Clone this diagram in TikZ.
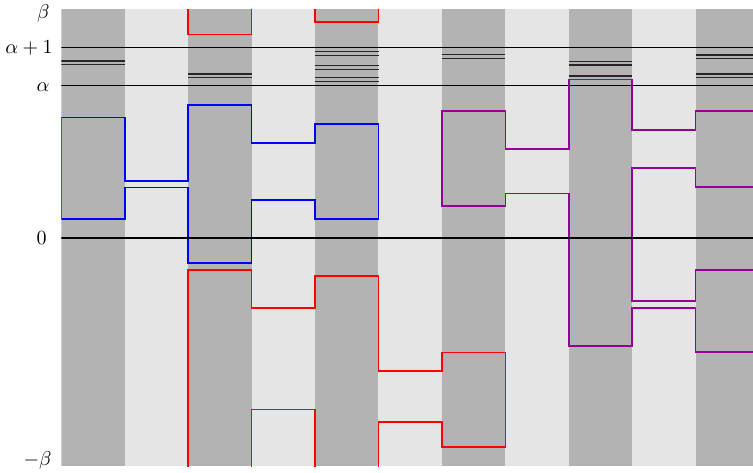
\documentclass[tikz,border=0pt]{standalone}
\usepackage{tikz}
\definecolor{darkcol}{RGB}{179,179,179}
\definecolor{lightcol}{RGB}{229,229,229}
\definecolor{purp}{RGB}{150,0,150}
\tikzset{
  dbl/.style={black!85, line width=0.75pt},
  hline/.style={black, line width=0.55pt},
  zline/.style={black, line width=1.35pt},
  region/.style={line width=0.8pt, line join=miter},
  lab/.style={anchor=east, inner sep=0pt, font=\normalsize}
}
\begin{document}
\begin{tikzpicture}[x=0.5pt,y=-0.5pt]
\useasboundingbox (0,0) rectangle (753,472);
\begin{scope}
\clip (61.3,9) rectangle (753,466);
% columns
\foreach \k in {0,...,10}{
  \pgfmathsetmacro{\xa}{61.3+63.43*\k}
  \pgfmathsetmacro{\xb}{61.3+63.43*(\k+1)}
  \pgfmathtruncatemacro{\myparity}{mod(\k,2)}
  \ifnum\myparity=0
    \fill[darkcol] (\xa,9) rectangle (\xb,466);
  \else
    \fill[lightcol] (\xa,9) rectangle (\xb,466);
  \fi
}
% alpha lines
\draw[hline] (61.3,47.3) -- (753,47.3);
\draw[hline] (61.3,85.3) -- (753,85.3);
% double lines
\foreach \xa/\xb/\y in {61.3/124.7/61, 61.3/124.7/64.7,
  188.2/251.6/74, 188.2/251.6/77.7,
  315/378.5/51.7, 315/378.5/55.3, 315/378.5/65.7, 315/378.5/69.5, 315/378.5/77.7, 315/378.5/81.3,
  441.9/505.3/54.7, 441.9/505.3/58.7,
  568.8/632.2/61.3, 568.8/632.2/65, 568.8/632.2/76, 568.8/632.2/79.5,
  695.6/759/55, 695.6/759/58.7, 695.6/759/74, 695.6/759/77.7}{
  \draw[dbl] (\xa,\y) -- (\xb,\y);
}
% blue region
\draw[region, blue] (61.3,117.3) -- (124.7,117.3) -- (124.7,180.7) -- (188.2,180.7) -- (188.2,104.7) -- (251.6,104.7) -- (251.6,142.7) -- (315,142.7) -- (315,123.7) -- (378.5,123.7) -- (378.5,218.7) -- (315,218.7) -- (315,200) -- (251.6,200) -- (251.6,262.7) -- (188.2,262.7) -- (188.2,187.3) -- (124.7,187.3) -- (124.7,218.7) -- (61.3,218.7) -- cycle;
% red region
\draw[region, red] (188.2,470) -- (188.2,269.7) -- (251.6,269.7) -- (251.6,307.7) -- (315,307.7) -- (315,276) -- (378.5,276) -- (378.5,371) -- (441.9,371) -- (441.9,352.3) -- (505.3,352.3) -- (505.3,446.7) -- (441.9,446.7) -- (441.9,421.7) -- (378.5,421.7) -- (378.5,470);
\draw[region, red] (251.6,470) -- (251.6,409.3) -- (315,409.3) -- (315,470);
\draw[region, red] (188.2,5) -- (188.2,34.3) -- (251.6,34.3) -- (251.6,5);
\draw[region, red] (315,5) -- (315,21.7) -- (378.5,21.7) -- (378.5,5);
% purple region
\draw[region, purp] (760,110.7) -- (695.6,110.7) -- (695.6,129.7) -- (632.2,129.7) -- (632.2,79.3) -- (568.8,79.3) -- (568.8,148.7) -- (505.3,148.7) -- (505.3,110.7) -- (441.9,110.7) -- (441.9,206) -- (505.3,206) -- (505.3,193.3) -- (568.8,193.3) -- (568.8,345.7) -- (632.2,345.7) -- (632.2,307.7) -- (695.6,307.7) -- (695.6,352) -- (760,352);
\draw[region, purp] (760,187) -- (695.6,187) -- (695.6,168) -- (632.2,168) -- (632.2,301) -- (695.6,301) -- (695.6,269.7) -- (760,269.7);
% zero line
\draw[zline] (61.3,238) -- (753,238);
\end{scope}
% labels
\node[lab] (lbeta) at (50,13) {$\beta$};
\node[lab] (lap) at (53,48) {$\alpha+1$};
\node[lab] (la) at (50,87) {$\alpha$};
\node[lab] (lzero) at (47,238) {$0$};
\node[lab] (lmbeta) at (52,460) {$-\beta$};
\end{tikzpicture}
\end{document}
